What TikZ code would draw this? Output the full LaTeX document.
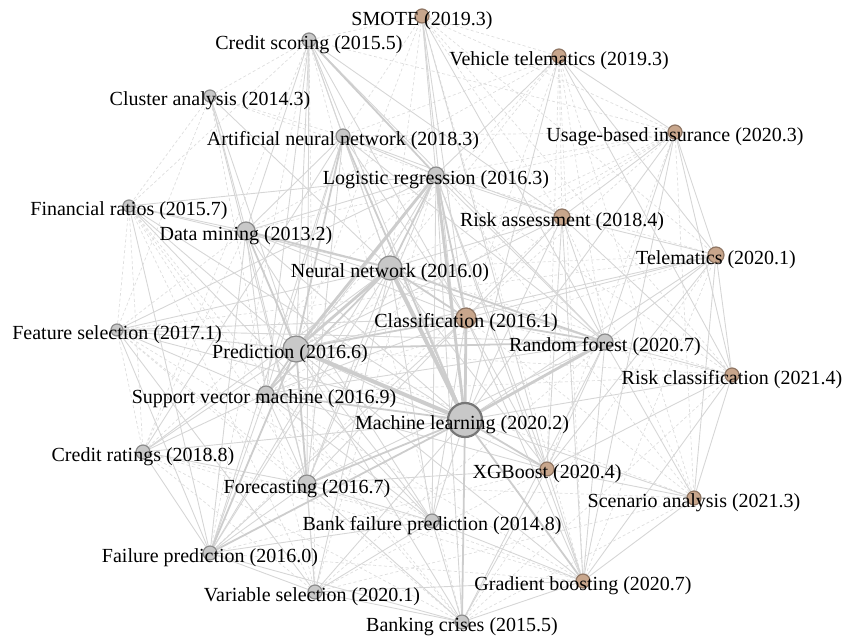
\documentclass[tikz,border=0pt]{standalone}
\usepackage{fontspec}
\setmainfont{Liberation Serif}
\usetikzlibrary{backgrounds}
\definecolor{grayfill}{RGB}{200,200,200}
\definecolor{grayline}{RGB}{140,140,140}
\definecolor{tanfill}{RGB}{200,166,140}
\definecolor{tanline}{RGB}{143,118,100}
\definecolor{edgecol}{RGB}{205,205,205}
\definecolor{thincol}{RGB}{214,214,214}
\definecolor{faintcol}{RGB}{222,222,222}
\newcommand\kwfont{\fontsize{10}{12}\selectfont}
\tikzset{
  kw/.style={circle, draw=grayline, fill=grayfill, line width=0.6pt, inner sep=0pt, minimum size=7pt},
  kwtan/.style={kw, draw=tanline, fill=tanfill},
  kwlabel/.style={font=\kwfont, inner sep=0pt, yshift=-2.5pt},
  heavy/.style={draw=edgecol, line width=2pt},
  strong/.style={draw=edgecol, line width=1.4pt},
  medium/.style={draw=edgecol, line width=0.9pt},
  thin/.style={draw=thincol, line width=0.45pt},
  faint/.style={draw=faintcol, line width=0.35pt, dash pattern=on 1.5pt off 1.2pt},
}
\begin{document}
\begin{tikzpicture}[x=0.5pt, y=-0.5pt]
      \useasboundingbox (0,0) rectangle (842,636);
      % keywords
      \node[kwtan, label={[kwlabel]center:SMOTE (2019.3)}] (smote) at (422,16) {};
      \node[kw, label={[kwlabel]center:Credit scoring (2015.5)}] (cscore) at (309,40) {};
      \node[kwtan, label={[kwlabel]center:Vehicle telematics (2019.3)}] (vtel) at (559,56) {};
      \node[kw, minimum size=6pt, label={[kwlabel]center:Cluster analysis (2014.3)}] (clus) at (210,96) {};
      \node[kw, label={[kwlabel]center:Artificial neural network (2018.3)}] (ann) at (343,136) {};
      \node[kwtan, label={[kwlabel]center:Usage-based insurance (2020.3)}] (ubi) at (675,132) {};
      \node[kw, minimum size=8pt, label={[kwlabel]center:Logistic regression (2016.3)}] (lr) at (436,175) {};
      \node[kw, minimum size=6pt, label={[kwlabel]center:Financial ratios (2015.7)}] (fin) at (129,206) {};
      \node[kwtan, minimum size=8pt, label={[kwlabel]center:Risk assessment (2018.4)}] (risk) at (562,217) {};
      \node[kw, minimum size=9pt, label={[kwlabel]center:Data mining (2013.2)}] (dm) at (246,231) {};
      \node[kwtan, minimum size=8pt, label={[kwlabel]center:Telematics (2020.1)}] (tel) at (716,255) {};
      \node[kw, minimum size=12pt, label={[kwlabel]center:Neural network (2016.0)}] (nn) at (390,268) {};
      \node[kw, minimum size=6pt, label={[kwlabel]center:Feature selection (2017.1)}] (fsel) at (117,330) {};
      \node[kwtan, minimum size=10pt, label={[kwlabel]center:Classification (2016.1)}] (cls) at (466,318) {};
      \node[kw, minimum size=8pt, label={[kwlabel]center:Random forest (2020.7)}] (rf) at (605,342) {};
      \node[kw, minimum size=13pt, label={[kwlabel, xshift=-3pt]center:Prediction (2016.6)}] (pred) at (296,349) {};
      \node[kwtan, label={[kwlabel]center:Risk classification (2021.4)}] (rclass) at (732,375) {};
      \node[kw, minimum size=8pt, label={[kwlabel, xshift=-1pt]center:Support vector machine (2016.9)}] (svm) at (266,394) {};
      \node[kw, minimum size=17pt, line width=1.1pt, draw=grayline!85!black, label={[kwlabel, xshift=-1.5pt]center:Machine learning (2020.2)}] (ml) at (465,420) {};
      \node[kw, label={[kwlabel]center:Credit ratings (2018.8)}] (crat) at (143,452) {};
      \node[kwtan, label={[kwlabel]center:XGBoost (2020.4)}] (xgb) at (547,469) {};
      \node[kw, minimum size=9pt, label={[kwlabel]center:Forecasting (2016.7)}] (fcst) at (307,484) {};
      \node[kwtan, label={[kwlabel]center:Scenario analysis (2021.3)}] (scen) at (694,498) {};
      \node[kw, label={[kwlabel]center:Bank failure prediction (2014.8)}] (bfp) at (432,521) {};
      \node[kw, label={[kwlabel]center:Failure prediction (2016.0)}] (fp) at (210,553) {};
      \node[kwtan, label={[kwlabel]center:Gradient boosting (2020.7)}] (gb) at (583,581) {};
      \node[kw, label={[kwlabel, xshift=-1.5pt]center:Variable selection (2020.1)}] (vsel) at (315,592) {};
      \node[kw, label={[kwlabel]center:Banking crises (2015.5)}] (bcr) at (462,622) {};
      % links
      \begin{scope}[on background layer]
        \draw[faint] (smote) to (vtel);
        \draw[faint] (smote) to (ubi);
        \draw[faint] (smote) to (tel);
        \draw[faint] (smote) to (risk);
        \draw[faint] (smote) to (cscore);
        \draw[faint] (smote) to (ann);
        \draw[faint] (smote) to (gb);
        \draw[faint] (smote) to (rclass);
        \draw[faint] (smote) to (nn);
        \draw[faint] (smote) to (pred);
        \draw[faint] (cscore) to (fin);
        \draw[faint] (cscore) to (clus);
        \draw[faint] (cscore) to (fp);
        \draw[faint] (cscore) to (crat);
        \draw[faint] (cscore) to (vsel);
        \draw[faint] (cscore) to (bcr);
        \draw[faint] (cscore) to (ubi);
        \draw[faint] (clus) to (fin);
        \draw[faint] (clus) to (fsel);
        \draw[faint] (clus) to (lr);
        \draw[faint] (clus) to (ann);
        \draw[faint] (clus) to (svm);
        \draw[faint] (vtel) to (risk);
        \draw[faint] (vtel) to (cls);
        \draw[faint] (vtel) to (rf);
        \draw[faint] (vtel) to (scen);
        \draw[faint] (vtel) to (xgb);
        \draw[faint] (vtel) to (gb);
        \draw[faint] (vtel) to (ann);
        \draw[faint] (vtel) to (nn);
        \draw[faint] (vtel) to (pred);
        \draw[faint] (vtel) to (dm);
        \draw[faint] (ubi) to (lr);
        \draw[faint] (ubi) to (cls);
        \draw[faint] (ubi) to (nn);
        \draw[faint] (ubi) to (pred);
        \draw[faint] (ubi) to (scen);
        \draw[faint] (ubi) to (xgb);
        \draw[faint] (ubi) to (svm);
        \draw[faint] (ubi) to (ann);
        \draw[faint] (ubi) to (dm);
        \draw[faint] (fin) to (fsel);
        \draw[faint] (fin) to (crat);
        \draw[faint] (fin) to (svm);
        \draw[faint] (fin) to (fcst);
        \draw[faint] (fin) to (vsel);
        \draw[faint] (fin) to (bcr);
        \draw[faint] (tel) to (lr);
        \draw[faint] (tel) to (nn);
        \draw[faint] (tel) to (gb);
        \draw[faint] (tel) to (svm);
        \draw[faint] (tel) to (fsel);
        \draw[faint] (tel) to (bcr);
        \draw[faint] (fsel) to (crat);
        \draw[faint] (fsel) to (dm);
        \draw[faint] (fsel) to (fcst);
        \draw[faint] (fsel) to (bfp);
        \draw[faint] (fsel) to (bcr);
        \draw[faint] (rclass) to (cls);
        \draw[faint] (rclass) to (lr);
        \draw[faint] (rclass) to (pred);
        \draw[faint] (rclass) to (nn);
        \draw[faint] (rclass) to (bcr);
        \draw[faint] (rclass) to (svm);
        \draw[faint] (scen) to (cls);
        \draw[faint] (scen) to (pred);
        \draw[faint] (scen) to (lr);
        \draw[faint] (scen) to (risk);
        \draw[faint] (scen) to (bcr);
        \draw[faint] (scen) to (vsel);
        \draw[faint] (scen) to (fcst);
        \draw[faint] (crat) to (vsel);
        \draw[faint] (crat) to (bfp);
        \draw[faint] (crat) to (bcr);
        \draw[faint] (crat) to (dm);
        \draw[faint] (crat) to (lr);
        \draw[faint] (crat) to (gb);
        \draw[faint] (gb) to (fp);
        \draw[faint] (gb) to (fcst);
        \draw[faint] (gb) to (svm);
        \draw[faint] (bcr) to (svm);
        \draw[faint] (vsel) to (svm);
        \draw[faint] (vsel) to (rf);
        \draw[faint] (vsel) to (xgb);
        \draw[faint] (vsel) to (lr);
        \draw[faint] (fp) to (risk);
        \draw[faint] (fp) to (xgb);
        \draw[thin] (cscore) to (ann);
        \draw[thin] (cscore) to (nn);
        \draw[thin] (cscore) to (pred);
        \draw[thin] (cscore) to (ml);
        \draw[thin] (cscore) to (dm);
        \draw[thin] (cscore) to (risk);
        \draw[thin] (cscore) to (cls);
        \draw[thin] (cscore) to (svm);
        \draw[thin] (cscore) to (fcst);
        \draw[thin] (cscore) to (rf);
        \draw[thin] (clus) to (dm);
        \draw[thin] (clus) to (nn);
        \draw[thin] (clus) to (pred);
        \draw[thin] (clus) to (fcst);
        \draw[thin] (ann) to (lr);
        \draw[thin] (ann) to (nn);
        \draw[thin] (ann) to (dm);
        \draw[thin] (ann) to (cls);
        \draw[thin] (ann) to (risk);
        \draw[thin] (ann) to (svm);
        \draw[thin] (ann) to (fcst);
        \draw[thin] (ann) to (fp);
        \draw[thin] (ann) to (crat);
        \draw[thin] (ann) to (rf);
        \draw[thin] (ubi) to (tel);
        \draw[thin] (ubi) to (vtel);
        \draw[thin] (ubi) to (risk);
        \draw[thin] (ubi) to (ml);
        \draw[thin] (ubi) to (rf);
        \draw[thin] (ubi) to (rclass);
        \draw[thin] (ubi) to (gb);
        \draw[thin] (vtel) to (tel);
        \draw[thin] (vtel) to (ml);
        \draw[thin] (vtel) to (lr);
        \draw[thin] (vtel) to (rclass);
        \draw[thin] (smote) to (lr);
        \draw[thin] (smote) to (ml);
        \draw[thin] (smote) to (rf);
        \draw[thin] (smote) to (cls);
        \draw[thin] (smote) to (xgb);
        \draw[thin] (lr) to (risk);
        \draw[thin] (lr) to (dm);
        \draw[thin] (lr) to (rf);
        \draw[thin] (lr) to (svm);
        \draw[thin] (lr) to (fcst);
        \draw[thin] (lr) to (fp);
        \draw[thin] (lr) to (xgb);
        \draw[thin] (lr) to (bcr);
        \draw[thin] (lr) to (gb);
        \draw[thin] (lr) to (fsel);
        \draw[thin] (lr) to (bfp);
        \draw[thin] (fin) to (dm);
        \draw[thin] (fin) to (pred);
        \draw[thin] (fin) to (nn);
        \draw[thin] (fin) to (fp);
        \draw[thin] (fin) to (bfp);
        \draw[thin] (fin) to (lr);
        \draw[thin] (fin) to (ml);
        \draw[thin] (risk) to (ml);
        \draw[thin] (risk) to (cls);
        \draw[thin] (risk) to (rf);
        \draw[thin] (risk) to (tel);
        \draw[thin] (risk) to (nn);
        \draw[thin] (risk) to (pred);
        \draw[thin] (risk) to (xgb);
        \draw[thin] (risk) to (gb);
        \draw[thin] (risk) to (rclass);
        \draw[thin] (dm) to (cls);
        \draw[thin] (dm) to (svm);
        \draw[thin] (dm) to (fcst);
        \draw[thin] (dm) to (ml);
        \draw[thin] (dm) to (bfp);
        \draw[thin] (dm) to (fp);
        \draw[thin] (dm) to (rf);
        \draw[thin] (tel) to (ml);
        \draw[thin] (tel) to (rf);
        \draw[thin] (tel) to (rclass);
        \draw[thin] (tel) to (cls);
        \draw[thin] (tel) to (pred);
        \draw[thin] (tel) to (xgb);
        \draw[thin] (tel) to (scen);
        \draw[thin] (nn) to (fcst);
        \draw[thin] (nn) to (bfp);
        \draw[thin] (nn) to (fp);
        \draw[thin] (nn) to (vsel);
        \draw[thin] (nn) to (crat);
        \draw[thin] (nn) to (fsel);
        \draw[thin] (nn) to (xgb);
        \draw[thin] (fsel) to (pred);
        \draw[thin] (fsel) to (svm);
        \draw[thin] (fsel) to (ml);
        \draw[thin] (fsel) to (rf);
        \draw[thin] (fsel) to (cls);
        \draw[thin] (fsel) to (vsel);
        \draw[thin] (fsel) to (fp);
        \draw[thin] (cls) to (svm);
        \draw[thin] (cls) to (fcst);
        \draw[thin] (cls) to (xgb);
        \draw[thin] (cls) to (gb);
        \draw[thin] (cls) to (bfp);
        \draw[thin] (cls) to (fp);
        \draw[thin] (rf) to (xgb);
        \draw[thin] (rf) to (gb);
        \draw[thin] (rf) to (svm);
        \draw[thin] (rf) to (rclass);
        \draw[thin] (rf) to (scen);
        \draw[thin] (rf) to (fcst);
        \draw[thin] (rf) to (bcr);
        \draw[thin] (pred) to (crat);
        \draw[thin] (pred) to (vsel);
        \draw[thin] (pred) to (bfp);
        \draw[thin] (pred) to (bcr);
        \draw[thin] (pred) to (xgb);
        \draw[thin] (pred) to (gb);
        \draw[thin] (rclass) to (ml);
        \draw[thin] (rclass) to (scen);
        \draw[thin] (rclass) to (gb);
        \draw[thin] (rclass) to (xgb);
        \draw[thin] (svm) to (fcst);
        \draw[thin] (svm) to (fp);
        \draw[thin] (svm) to (crat);
        \draw[thin] (svm) to (bfp);
        \draw[thin] (svm) to (xgb);
        \draw[thin] (ml) to (crat);
        \draw[thin] (ml) to (scen);
        \draw[thin] (ml) to (bfp);
        \draw[thin] (ml) to (vsel);
        \draw[thin] (crat) to (fp);
        \draw[thin] (crat) to (fcst);
        \draw[thin] (xgb) to (gb);
        \draw[thin] (xgb) to (scen);
        \draw[thin] (xgb) to (fcst);
        \draw[thin] (xgb) to (bcr);
        \draw[thin] (fcst) to (fp);
        \draw[thin] (fcst) to (vsel);
        \draw[thin] (fcst) to (bfp);
        \draw[thin] (fcst) to (bcr);
        \draw[thin] (scen) to (gb);
        \draw[thin] (bfp) to (fp);
        \draw[thin] (bfp) to (bcr);
        \draw[thin] (bfp) to (gb);
        \draw[thin] (bfp) to (vsel);
        \draw[thin] (fp) to (vsel);
        \draw[thin] (fp) to (bcr);
        \draw[thin] (gb) to (bcr);
        \draw[thin] (gb) to (vsel);
        \draw[thin] (vsel) to (bcr);
        \draw[medium] (nn) to (lr);
        \draw[medium] (pred) to (cls);
        \draw[medium] (pred) to (rf);
        \draw[medium] (dm) to (nn);
        \draw[medium] (dm) to (pred);
        \draw[medium] (nn) to (cls);
        \draw[medium] (svm) to (ml);
        \draw[medium] (fcst) to (ml);
        \draw[medium] (fp) to (pred);
        \draw[medium] (svm) to (nn);
        \draw[medium] (ann) to (pred);
        \draw[medium] (lr) to (cls);
        \draw[medium] (cscore) to (lr);
        \draw[medium] (ann) to (ml);
        \draw[medium] (nn) to (rf);
        \draw[medium] (ml) to (xgb);
        \draw[medium] (ml) to (gb);
        \draw[medium] (cls) to (rf);
        \draw[medium] (ml) to (bcr);
        \draw[medium] (fcst) to (pred);
        \draw[medium] (fp) to (ml);
        \draw[medium] (svm) to (pred);
        \draw[strong] (ml) to (rf);
        \draw[strong] (pred) to (nn);
        \draw[strong] (pred) to (lr);
        \draw[strong] (lr) to (ml);
        \draw[strong] (cls) to (ml);
        \draw[heavy] (pred) to (ml);
        \draw[heavy] (nn) to (ml);
      \end{scope}
    \end{tikzpicture}
\end{document}
